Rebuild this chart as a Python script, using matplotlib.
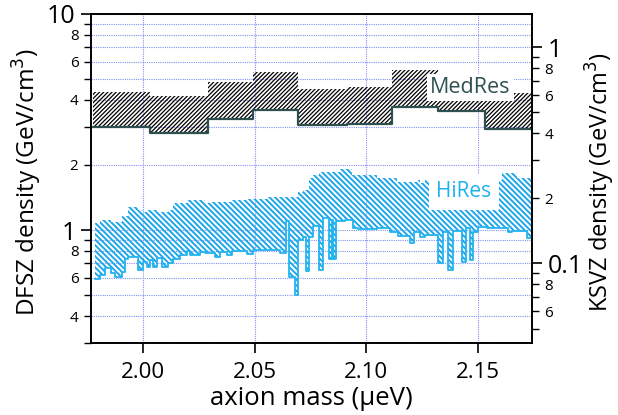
import math
import matplotlib
matplotlib.use("Agg")
import matplotlib.pyplot as plt
from matplotlib.ticker import LogLocator, FuncFormatter, FixedLocator

plt.rcParams['font.family'] = ['Open Sans', 'DejaVu Sans']

# MedRes exclusion band (step edges in ueV, DFSZ density in GeV/cm^3)
med_edges = [1.9776, 2.0030, 2.0291, 2.0493, 2.0695, 2.0912, 2.1114, 2.1323, 2.1532, 2.1760]
med_hi = [4.35, 4.17, 4.84, 5.36, 4.51, 4.61, 5.51, 4.90, 4.29]
med_lo = [2.99, 2.82, 3.27, 3.58, 3.05, 3.11, 3.71, 3.55, 2.94]

# HiRes exclusion band
hi_edges = [1.9783, 1.9806, 1.9828, 1.9858, 1.9873, 1.9903, 1.9918, 1.9933, 1.9978, 2.0000,
            2.0015, 2.0030, 2.0045, 2.0060, 2.0083, 2.0112, 2.0135, 2.0165, 2.0195, 2.0209,
            2.0254, 2.0277, 2.0299, 2.0322, 2.0344, 2.0374, 2.0396, 2.0464, 2.0493, 2.0553,
            2.0613, 2.0640, 2.0655, 2.0680, 2.0695, 2.0717, 2.0730, 2.0744, 2.0760, 2.0789,
            2.0807, 2.0834, 2.0846, 2.0852, 2.0864, 2.0882, 2.0904, 2.0935, 2.0942, 2.0964,
            2.1047, 2.1106, 2.1136, 2.1143, 2.1196, 2.1214, 2.1226, 2.1241, 2.1263, 2.1323,
            2.1345, 2.1368, 2.1390, 2.1428, 2.1447, 2.1465, 2.1480, 2.1502, 2.1540, 2.1607,
            2.1637, 2.1652, 2.1674, 2.1719, 2.1745]
hi_hi = [1.08, 1.11, 1.11, 1.09, 1.09, 1.16, 1.16, 1.28, 1.24, 1.21,
         1.24, 1.24, 1.24, 1.21, 1.21, 1.24, 1.34, 1.34, 1.38, 1.38,
         1.38, 1.34, 1.35, 1.35, 1.35, 1.35, 1.38, 1.39, 1.39, 1.42,
         1.42, 1.42, 1.42, 1.42, 1.50, 1.53, 1.53, 1.75, 1.80, 1.86,
         1.86, 1.86, 1.86, 1.86, 1.86, 1.92, 1.92, 1.80, 1.80, 1.80,
         1.75, 1.75, 1.67, 1.67, 1.67, 1.67, 1.71, 1.65, 1.71, 1.71,
         1.71, 1.71, 1.71, 1.71, 1.71, 1.71, 1.71, 1.71, 1.71, 1.84,
         1.84, 1.84, 1.75, 1.75]
hi_lo = [0.592, 0.617, 0.666, 0.631, 0.604, 0.638, 0.733, 0.749, 0.652, 0.710,
         0.673, 0.725, 0.673, 0.741, 0.673, 0.702, 0.733, 0.765, 0.799, 0.765,
         0.790, 0.782, 0.782, 0.749, 0.790, 0.765, 0.799, 0.773, 0.807, 0.807,
         0.782, 1.10, 0.604, 0.499, 0.898, 0.928, 0.645, 0.928, 1.04, 0.652,
         1.14, 0.733, 1.11, 0.733, 1.10, 1.10, 1.11, 1.11, 1.02, 1.01,
         1.02, 0.979, 0.979, 0.938, 0.870, 0.979, 0.979, 0.928, 0.948, 0.702,
         0.979, 0.652, 0.990, 0.710, 1.02, 0.725, 0.979, 1.03, 1.02, 1.02,
         0.979, 0.990, 0.990, 0.918]

x_ticks = [2.00, 2.05, 2.10, 2.15]
ksvz_factor = 7.0
ylim = (0.30, 10.0)

med_color = '#2f5050'
hires_color = '#1ea6ea'
grid_color = '#8390f5'

fig = plt.figure(figsize=(6.18, 4.15), dpi=100)
ax = fig.add_axes([0.1472, 0.1735, 0.7136, 0.7928])


def band(edges, lo, hi, hatch, color, hatch_lw, line_color, line_lw):
    plt.rcParams['hatch.linewidth'] = hatch_lw
    plt.rcParams['hatch.color'] = color
    ax.fill_between(edges, lo + [lo[-1]], hi + [hi[-1]], step='post',
                    facecolor='none', edgecolor=color, linewidth=0, hatch=hatch, zorder=2)
    ax.step(edges, lo + [lo[-1]], where='post', color=line_color, lw=line_lw, zorder=3)


band(med_edges, med_lo, med_hi, '/' * 8, 'black', 0.9, med_color, 1.6)
band(hi_edges, hi_lo, hi_hi, '\\' * 6, hires_color, 1.4, '#22b4f0', 1.3)

ax.set_yscale('log')
ax.set_xlim(1.9766, 2.1743)
ax.set_ylim(*ylim)


def minor_fmt(v, pos):
    exp = math.floor(math.log10(v) + 1e-9)
    d = int(round(v / 10 ** exp))
    return str(d) if d in (2, 4, 6, 8) else ''


def major_fmt(v, pos):
    return '%g' % v


def setup_log_axis(a):
    a.yaxis.set_major_locator(LogLocator(base=10))
    a.yaxis.set_minor_locator(LogLocator(base=10, subs=range(2, 10)))
    a.yaxis.set_major_formatter(FuncFormatter(major_fmt))
    a.yaxis.set_minor_formatter(FuncFormatter(minor_fmt))
    a.tick_params(axis='y', which='major', direction='out', length=7, width=1.2,
                  labelsize=18, pad=4)
    a.tick_params(axis='y', which='minor', direction='out', length=5, width=1.0,
                  labelsize=11, pad=4)


setup_log_axis(ax)

ax.xaxis.set_major_locator(FixedLocator(x_ticks))
ax.set_xticklabels(['%.2f' % t for t in x_ticks])
ax.tick_params(axis='x', which='major', direction='out', length=7, width=1.2,
               labelsize=16, pad=7)

ax.set_axisbelow(True)
ax.grid(which='both', axis='y', ls=(0, (1, 1)), color=grid_color, lw=0.8)
ax.grid(which='major', axis='x', ls=(0, (1, 1)), color=grid_color, lw=0.8)

ax.set_xlabel('axion mass (\u03bceV)', fontsize=18.5, labelpad=2)
ax.set_ylabel('DFSZ density (GeV/cm$^3$)', fontsize=17.5)
ax.yaxis.set_label_coords(-0.106, 0.49)

ax2 = ax.twinx()
ax2.set_yscale('log')
ax2.set_ylim(ylim[0] / ksvz_factor, ylim[1] / ksvz_factor)
setup_log_axis(ax2)
ax2.set_ylabel('KSVZ density (GeV/cm$^3$)', fontsize=17)
ax2.yaxis.set_label_coords(1.118, 0.49)

for a in (ax, ax2):
    for s in a.spines.values():
        s.set_linewidth(1.2)

ax.text(2.1466, 4.57, 'MedRes', color=med_color, fontsize=15.5, ha='center', va='center',
        bbox=dict(boxstyle='square,pad=0.15', facecolor='white', edgecolor='none'), zorder=5)
ax.text(2.1438, 1.50, 'HiRes', color='#1fb2ef', fontsize=15, ha='center', va='center',
        bbox=dict(boxstyle='square,pad=0.35', facecolor='white', edgecolor='none'), zorder=5)

fig.savefig('out.png', dpi=100)
